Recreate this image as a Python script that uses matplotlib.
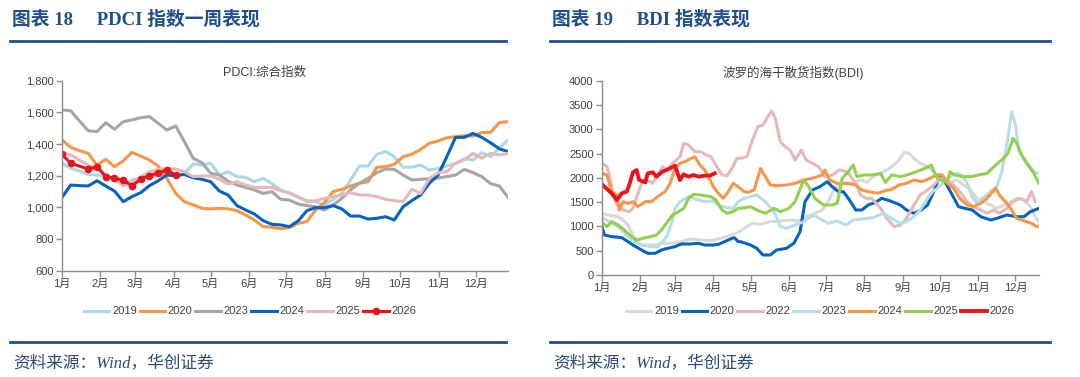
# PDCI weekly index and BDI daily index, seasonal comparison by year

import numpy as np
import matplotlib.pyplot as plt
from matplotlib.lines import Line2D
from matplotlib.ticker import StrMethodFormatter

plt.rcParams['font.family'] = ['Liberation Sans', 'Noto Sans CJK SC', 'DejaVu Sans']

NAVY = '#1f4e8c'
TEXT = '#404040'
AXIS = '#8c8c8c'

month_labels = ['1月', '2月', '3月', '4月', '5月', '6月', '7月', '8月', '9月', '10月', '11月', '12月']
month_days = [0, 31, 59, 90, 120, 151, 181, 212, 243, 273, 304, 334]

# ---- PDCI: weekly values, week index 0..51
pdci_weeks = np.arange(52)
pdci_2019 = [1278, 1246, 1230, 1208, 1204, 1198, 1177, 1147, 1173, 1183,
             1190, 1204, 1204, 1204, 1215, 1274, 1267, 1278, 1204, 1225,
             1194, 1190, 1162, 1183, 1150, 1110, 1088, 1063, 1042, 1036,
             1015, 1051, 1088, 1173, 1261, 1261, 1335, 1352, 1320, 1253,
             1253, 1267, 1236, 1246, 1261, 1278, 1307, 1299, 1345, 1320,
             1373, 1425]
pdci_2020 = [1425, 1379, 1358, 1341, 1267, 1303, 1257, 1293, 1347, 1324,
             1299, 1261, 1183, 1088, 1036, 1015, 994, 990, 994, 990,
             979, 952, 920, 878, 874, 865, 872, 899, 910, 983,
             1030, 1099, 1114, 1135, 1152, 1162, 1253, 1257, 1272, 1320,
             1335, 1366, 1404, 1419, 1440, 1446, 1453, 1451, 1472, 1474,
             1535, 1541]
pdci_2023 = [1615, 1610, 1545, 1484, 1478, 1535, 1493, 1541, 1552, 1566,
             1573, 1531, 1488, 1514, 1415, 1310, 1282, 1215, 1204, 1165,
             1141, 1126, 1110, 1088, 1099, 1051, 1046, 1021, 1011, 1004,
             983, 1015, 1057, 1110, 1152, 1183, 1219, 1242, 1240, 1204,
             1173, 1177, 1181, 1185, 1194, 1204, 1240, 1219, 1194, 1150,
             1135, 1063]
pdci_2024 = [1063, 1141, 1137, 1135, 1168, 1135, 1103, 1036, 1067, 1093,
             1137, 1168, 1204, 1200, 1208, 1187, 1177, 1162, 1103, 1078,
             1011, 983, 958, 916, 893, 889, 878, 914, 979, 998,
             998, 1011, 990, 945, 945, 926, 931, 941, 920, 1004,
             1042, 1078, 1152, 1204, 1320, 1442, 1442, 1467, 1442, 1408,
             1370, 1352]
pdci_2025 = [1345, 1331, 1299, 1267, 1246, 1204, 1177, 1135, 1162, 1190,
             1225, 1240, 1244, 1242, 1225, 1194, 1198, 1198, 1177, 1147,
             1162, 1141, 1126, 1126, 1126, 1105, 1093, 1067, 1036, 1042,
             1057, 1067, 1078, 1093, 1078, 1078, 1067, 1051, 1042, 1036,
             1114, 1088, 1183, 1219, 1225, 1278, 1299, 1341, 1310, 1341,
             1331, 1341]
pdci_2026_weeks = [0, 1, 3, 4, 5, 6, 7, 8, 9, 10, 11, 12, 13]
pdci_2026 = [1335, 1278, 1242, 1257, 1194, 1183, 1173, 1135, 1179, 1200, 1219, 1236, 1204]

# ---- BDI: day-of-year / value pairs
bdi_2019_day = [0, 5, 13, 17, 21, 25, 28, 32, 43, 48, 56, 64, 72, 80, 88, 96, 104, 110, 117, 122,
                128, 136, 144, 152, 159, 165, 172, 178, 183, 188, 192, 198, 205, 209, 214, 219, 225, 230,
                236, 240, 244, 248, 252, 257, 263, 268, 272, 276, 281, 287, 292, 298, 303, 308, 314, 319,
                325, 330, 335, 341, 346, 350, 353]
bdi_2019 = [1270, 1235, 1200, 1132, 1029, 823, 686, 617, 617, 652, 652, 686, 741, 720, 707, 755, 823, 878, 995, 1063,
            1043, 1098, 1111, 1132, 1111, 1200, 1269, 1338, 1523, 1784, 1852, 1887, 1921, 1955, 1907, 2024, 2092, 2161,
            2264, 2367, 2524, 2504, 2401, 2298, 2230, 2127, 2024, 1955, 1907, 1955, 1852, 1749, 1578, 1509, 1441, 1372,
            1441, 1509, 1578, 1543, 1406, 1200, 1098]
bdi_2020_day = [0, 2, 8, 16, 21, 25, 32, 37, 43, 48, 53, 59, 64, 71, 78, 83, 90, 94, 99, 105,
                107, 110, 112, 120, 125, 130, 136, 141, 149, 155, 160, 164, 170, 176, 182, 186, 191, 195, 199, 205,
                210, 215, 221, 226, 233, 241, 246, 252, 258, 263, 268, 273, 277, 283, 288, 293, 299, 306, 314, 319,
                327, 335, 341, 346, 353]
bdi_2020 = [995, 823, 789, 768, 686, 617, 514, 446, 446, 514, 549, 583, 638, 638, 652, 617, 617, 631, 686, 755,
            768, 686, 686, 617, 549, 412, 412, 514, 549, 652, 892, 1509, 1749, 1818, 1921, 1818, 1715, 1715, 1578, 1338,
            1338, 1441, 1495, 1578, 1523, 1441, 1338, 1269, 1338, 1441, 1715, 2058, 1921, 1646, 1406, 1372, 1338, 1200, 1132, 1166,
            1235, 1200, 1200, 1303, 1372]
bdi_2022_day = [0, 4, 6, 9, 12, 17, 22, 25, 32, 35, 39, 41, 44, 49, 53, 57, 63, 66, 70, 75,
                80, 84, 88, 92, 97, 101, 105, 109, 112, 117, 122, 126, 130, 134, 137, 140, 144, 148, 152, 156,
                161, 165, 170, 175, 180, 186, 192, 198, 205, 209, 213, 218, 225, 230, 236, 241, 246, 252, 257, 263,
                268, 273, 279, 284, 289, 295, 300, 306, 311, 316, 321, 327, 332, 338, 343, 347, 350]
bdi_2022 = [2298, 2230, 2058, 1646, 1441, 1338, 1303, 1372, 1887, 1955, 1921, 1887, 2024, 2230, 2161, 2298, 2435, 2710, 2675, 2538,
            2538, 2470, 2435, 2264, 2058, 2044, 2195, 2401, 2401, 2435, 2813, 3053, 3087, 3258, 3375, 3224, 2744, 2641, 2572, 2367,
            2572, 2367, 2298, 2230, 2024, 2058, 2161, 2127, 1887, 1646, 1578, 1578, 1372, 1166, 995, 1029, 1166, 1441, 1646, 1749,
            1852, 1990, 1955, 1852, 1715, 1509, 1406, 1338, 1269, 1338, 1269, 1372, 1509, 1578, 1509, 1715, 1509]
bdi_2023_day = [0, 5, 13, 21, 26, 32, 40, 45, 49, 53, 57, 59, 63, 70, 74, 78, 83, 90, 94, 98,
                102, 106, 110, 115, 120, 125, 132, 139, 144, 149, 156, 163, 171, 178, 183, 190, 197, 203, 211, 219,
                227, 236, 241, 246, 252, 257, 263, 267, 271, 275, 279, 283, 287, 291, 295, 299, 303, 307, 311, 315,
                319, 323, 327, 331, 334, 337, 341, 345, 349, 353]
bdi_2023 = [1180, 1111, 995, 789, 686, 617, 583, 583, 686, 823, 1132, 1372, 1509, 1612, 1578, 1543, 1509, 1523, 1441, 1406,
            1386, 1372, 1509, 1578, 1612, 1646, 1509, 1303, 995, 960, 1029, 1098, 1235, 1132, 1063, 1111, 1029, 1132, 1152, 1180,
            1269, 1132, 1063, 1098, 1200, 1338, 1578, 1715, 1784, 1887, 1990, 2058, 2092, 2058, 1887, 1612, 1475, 1578, 1646, 1749,
            1818, 2127, 2675, 3361, 3087, 2538, 2401, 2264, 2127, 2092]
bdi_2024_day = [0, 4, 8, 12, 14, 17, 21, 25, 29, 35, 40, 45, 51, 55, 59, 63, 67, 72, 75, 79,
                83, 86, 90, 94, 98, 102, 106, 110, 115, 118, 123, 128, 132, 136, 141, 149, 156, 163, 170, 178,
                180, 184, 190, 198, 205, 210, 215, 223, 230, 233, 240, 246, 252, 258, 265, 270, 275, 279, 284, 289,
                295, 300, 306, 311, 318, 322, 326, 331, 335, 339, 343, 347, 351, 354]
bdi_2024 = [2092, 2058, 1715, 1646, 1338, 1509, 1475, 1509, 1406, 1509, 1509, 1612, 1715, 1887, 2195, 2298, 2332, 2401, 2435, 2264,
            2161, 2024, 1818, 1681, 1578, 1715, 1887, 1818, 1715, 1701, 1749, 2195, 2024, 1852, 1838, 1852, 1887, 1955, 1990, 2058,
            2161, 1955, 1887, 1887, 1852, 1749, 1715, 1681, 1749, 1749, 1852, 1887, 1955, 1921, 1990, 2058, 2058, 1887, 1784, 1578,
            1441, 1406, 1475, 1578, 1784, 1612, 1509, 1338, 1166, 1132, 1098, 1063, 995, 1015]
bdi_2025_day = [0, 4, 8, 13, 18, 24, 28, 33, 39, 44, 48, 53, 57, 61, 66, 70, 74, 80, 88, 92,
                97, 101, 106, 110, 112, 120, 125, 132, 139, 144, 151, 156, 163, 167, 172, 179, 186, 190, 194, 199,
                203, 206, 211, 218, 225, 229, 234, 241, 248, 254, 261, 266, 270, 275, 279, 281, 285, 291, 298, 304,
                311, 318, 323, 328, 332, 335, 339, 343, 349, 353]
bdi_2025 = [1084, 995, 1098, 1029, 926, 789, 720, 755, 789, 823, 926, 1098, 1235, 1290, 1372, 1578, 1660, 1646, 1612, 1543,
            1338, 1269, 1303, 1372, 1372, 1406, 1338, 1269, 1372, 1303, 1372, 1509, 1955, 1818, 1578, 1441, 1441, 1475, 1990, 2127,
            2264, 2024, 2058, 2058, 2092, 1907, 2058, 2024, 2072, 2127, 2195, 2264, 2024, 1935, 1921, 2127, 2058, 2024, 2024, 2058,
            2092, 2264, 2367, 2504, 2813, 2710, 2470, 2298, 2092, 1887]
bdi_2026_day = [0, 5, 9, 12, 16, 20, 22, 25, 28, 30, 35, 37, 41, 44, 48, 52, 56, 59, 63, 66,
                70, 74, 78, 83, 87, 91]
bdi_2026 = [1866, 1749, 1646, 1543, 1681, 1715, 1852, 2113, 2161, 1955, 1907, 2092, 2113, 2024, 2113, 2161, 2209, 2250, 1955, 2072,
            2024, 2058, 2024, 2044, 2044, 2092]


def style_axis(ax):
    for s in ['top', 'right']:
        ax.spines[s].set_visible(False)
    for s in ['left', 'bottom']:
        ax.spines[s].set_color(AXIS)
        ax.spines[s].set_linewidth(1)
    ax.tick_params(direction='out', length=4, width=1, color=AXIS,
                   labelsize=8, labelcolor=TEXT, pad=2)
    ax.set_xticks(month_days)
    ax.set_xticklabels(month_labels)


fig = plt.figure(figsize=(10.8, 3.77), dpi=100)

# ---------------- left: PDCI
ax1 = fig.add_axes([0.0574, 0.282, 0.413, 0.504])
wk = 360 / 51  # days per week so the last week hits the right edge
LW = 2.2
ax1.plot(pdci_weeks * wk, pdci_2019, color='#a9d9e8', lw=LW, label='2019')
ax1.plot(pdci_weeks * wk, pdci_2020, color='#f79646', lw=LW, label='2020')
ax1.plot(pdci_weeks * wk, pdci_2023, color='#a6a6a6', lw=LW, label='2023')
ax1.plot(pdci_weeks * wk, pdci_2024, color='#0563c1', lw=LW, label='2024')
ax1.plot(pdci_weeks * wk, pdci_2025, color='#e6b9b8', lw=LW, label='2025')
ax1.plot(np.array(pdci_2026_weeks) * wk, pdci_2026, color='#e8141c', lw=LW,
         marker='o', ms=4.5, label='2026')
ax1.set_xlim(0, 360)
ax1.set_ylim(600, 1800)
ax1.set_yticks(np.arange(600, 1801, 200))
ax1.yaxis.set_major_formatter(StrMethodFormatter('{x:,.0f}'))
style_axis(ax1)
fig.text(265 / 1080, 1 - 73 / 377, 'PDCI:综合指数', fontsize=9, color=TEXT,
         ha='center', va='center')
h, l = ax1.get_legend_handles_labels()
fig.legend(h, l, loc='center', bbox_to_anchor=(250 / 1080, 1 - 311.5 / 377), ncol=6,
           frameon=False, fontsize=8, handlelength=2.3, handletextpad=0.25,
           columnspacing=0.25, labelcolor=TEXT)

# ---------------- right: BDI
ax2 = fig.add_axes([0.5574, 0.2706, 0.4046, 0.5154])
ax2.plot(bdi_2019_day, bdi_2019, color='#d9d9d9', lw=LW, label='2019')
ax2.plot(bdi_2020_day, bdi_2020, color='#0563c1', lw=LW, label='2020')
ax2.plot(bdi_2022_day, bdi_2022, color='#e6b9b8', lw=LW, label='2022')
ax2.plot(bdi_2023_day, bdi_2023, color='#b7dde8', lw=LW, label='2023')
ax2.plot(bdi_2024_day, bdi_2024, color='#f79646', lw=LW, label='2024')
ax2.plot(bdi_2025_day, bdi_2025, color='#92d050', lw=LW, label='2025')
ax2.plot(bdi_2026_day, bdi_2026, color='#e8141c', lw=2.8, label='2026')
ax2.set_xlim(0, 353)
ax2.set_ylim(0, 4000)
ax2.set_yticks(np.arange(0, 4001, 500))
style_axis(ax2)
fig.text(793 / 1080, 1 - 73 / 377, '波罗的海干散货指数(BDI)', fontsize=9, color=TEXT,
         ha='center', va='center')
h, l = ax2.get_legend_handles_labels()
fig.legend(h, l, loc='center', bbox_to_anchor=(820 / 1080, 1 - 311.5 / 377), ncol=7,
           frameon=False, fontsize=8, handlelength=2.3, handletextpad=0.25,
           columnspacing=0.25, labelcolor=TEXT)

# ---------------- report headers, rules and sources
head_font = ['Liberation Serif', 'Noto Sans CJK SC']
for x0, x1, title in [(10, 506, '图表 18     PDCI 指数一周表现'),
                      (550, 1050, '图表 19     BDI 指数表现')]:
    fig.text(x0 / 1080 + 0.002, 1 - 19 / 377, title, fontsize=13.5, fontweight='bold',
             color=NAVY, family=head_font, va='center')
    fig.add_artist(Line2D([x0 / 1080, x1 / 1080], [1 - 41 / 377] * 2, color=NAVY, lw=2))
    fig.add_artist(Line2D([x0 / 1080, x1 / 1080], [1 - 342 / 377] * 2, color=NAVY, lw=2))
    fig.text(x0 / 1080 + 0.003, 1 - 363 / 377, '资料来源：Wind，华创证券', fontsize=12,
             style='italic', color='#2b4a7a', family=head_font, va='center')

plt.savefig('out.png', dpi=100)
